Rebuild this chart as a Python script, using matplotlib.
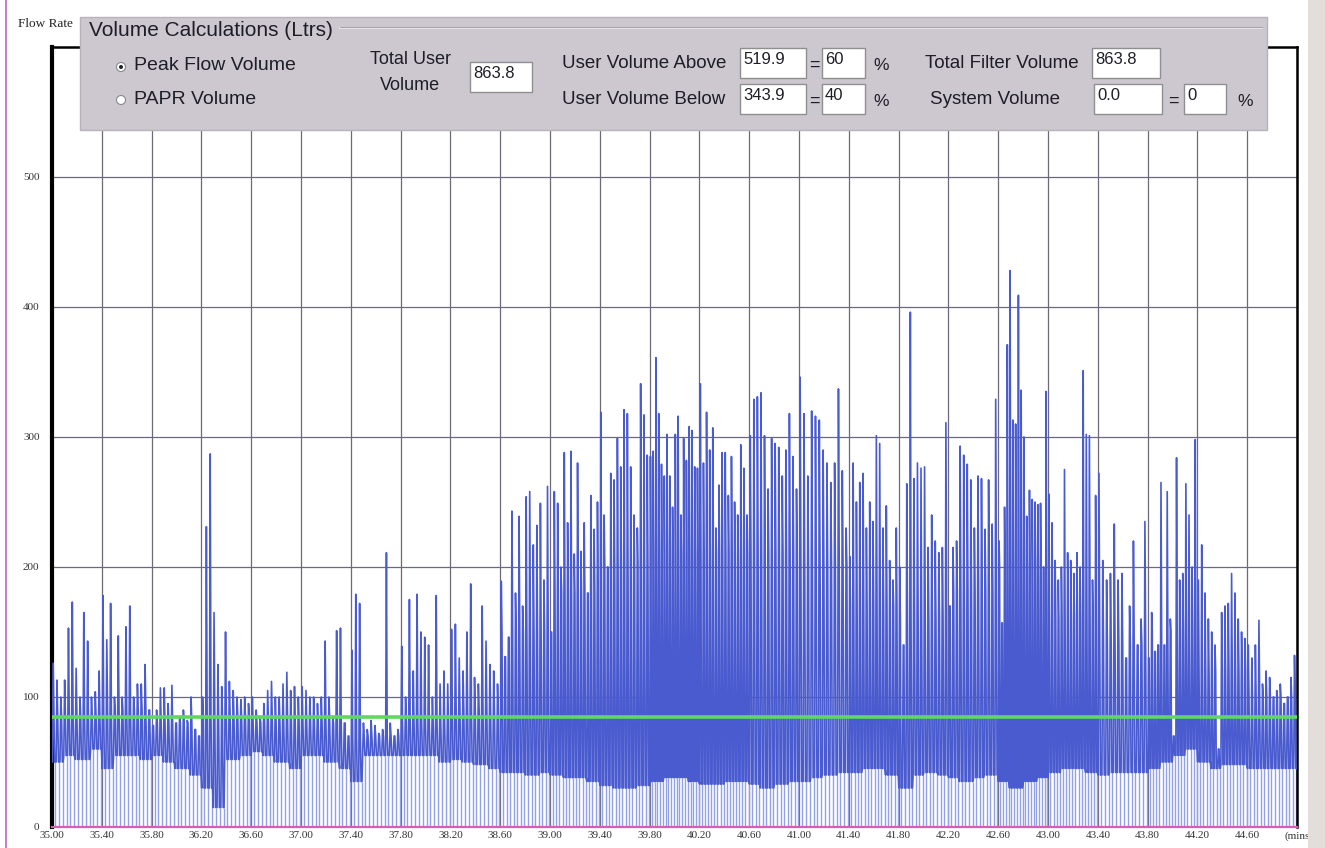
import numpy as np
import matplotlib
matplotlib.use("Agg")
import matplotlib.pyplot as plt
from matplotlib.patches import Rectangle, Circle

# ---------------- data ----------------
# flow-rate spikes, grouped per 0.4 minute window starting at 35.00 min
t_start = 35.0
window = 0.4
spikes = [
    [126, 113, 100, 113, 153, 173, 122, 100, 165, 143, 100, 104, 120],
    [178, 144, 172, 100, 147, 100, 154, 170, 100, 110, 110, 125, 90],
    [78, 90, 107, 107, 95, 109, 80, 85, 90, 82, 100, 75, 70],
    [100, 231, 287, 165, 125, 108, 150, 112, 105, 100, 98, 100, 95],
    [100, 90, 85, 95, 105, 112, 100, 100, 110, 119, 105, 108, 100],
    [108, 105, 100, 100, 95, 100, 143, 100, 85, 151, 153, 80, 70],
    [136, 179, 172, 80, 75, 82, 78, 72, 75, 211, 80, 70, 75],
    [139, 100, 175, 120, 179, 150, 146, 140, 100, 178, 110, 120, 110],
    [152, 156, 130, 120, 150, 187, 115, 110, 170, 143, 125, 120, 110],
    [189, 131, 146, 243, 180, 239, 170, 254, 258, 217, 232, 249, 190, 262],
    [150, 258, 249, 200, 288, 234, 289, 210, 280, 212, 234, 180, 255, 229, 250],
    [319, 240, 200, 272, 267, 299, 277, 321, 318, 277, 240, 230, 341, 317, 286],
    [285, 289, 361, 318, 279, 270, 302, 270, 246, 302, 316, 240, 299, 282, 308, 305, 277, 276],
    [341, 280, 319, 290, 307, 230, 263, 288, 288, 255, 285, 250, 240, 294, 276, 240],
    [301, 329, 331, 334, 301, 260, 299, 295, 292, 270, 290, 318, 285, 260],
    [346, 318, 270, 320, 316, 313, 290, 280, 265, 280, 337, 274, 230],
    [208, 280, 250, 265, 272, 230, 250, 235, 301, 295, 230, 247, 205, 190, 230],
    [200, 140, 264, 396, 268, 280, 276, 277, 215, 240, 220, 211, 215, 311],
    [170, 215, 220, 293, 286, 279, 267, 230, 270, 268, 229, 267, 233, 329],
    [220, 157, 246, 371, 428, 313, 310, 409, 336, 300, 239, 259, 252, 250, 248, 249, 200, 335],
    [256, 234, 205, 190, 200, 275, 211, 205, 195, 211, 200, 351, 302, 301, 190, 255],
    [272, 205, 190, 195, 233, 190, 195, 130, 170, 220, 140, 160, 235],
    [130, 165, 135, 140, 265, 140, 258, 160, 70, 284, 190, 195, 264, 240, 200, 298],
    [190, 217, 180, 160, 150, 140, 60, 165, 170, 172, 195, 180, 160, 150, 145],
    [140, 130, 140, 159, 110, 120, 115, 100, 105, 110, 95, 100, 115, 132],
]
# level the flow falls back to after each spike, per 0.4 min window
plateau = [85, 90, 80, 85, 80, 80, 70, 80, 90, 150, 180, 200, 210,
           210, 210, 200, 170, 160, 180, 200, 160, 140, 150, 120, 100]
# resting flow, per 0.1 min
base_step = 0.1
base_flow = [50, 55, 52, 60, 45, 55, 55, 52, 55, 50,
             45, 40, 30, 15, 52, 55, 58, 55, 50, 45,
             55, 55, 50, 45, 35, 55, 55, 55, 55, 55,
             55, 50, 52, 50, 48, 45, 42, 42, 40, 42,
             40, 38, 38, 35, 32, 30, 30, 32, 35, 38,
             38, 35, 33, 33, 35, 35, 33, 30, 33, 35,
             35, 38, 40, 42, 42, 45, 45, 40, 30, 40,
             42, 40, 38, 35, 38, 40, 35, 30, 35, 38,
             42, 45, 45, 42, 40, 42, 42, 42, 45, 50,
             55, 60, 50, 45, 48, 48, 45, 45, 45, 45]
threshold = 85

x_ticks = [35.00, 35.40, 35.80, 36.20, 36.60, 37.00, 37.40, 37.80, 38.20,
           38.60, 39.00, 39.40, 39.80, 40.20, 40.60, 41.00, 41.40, 41.80,
           42.20, 42.60, 43.00, 43.40, 43.80, 44.20, 44.60, 45.00]
y_ticks = [0, 100, 200, 300, 400, 500]

# ---------------- build trace ----------------
t_pts, y_pts, drop_t, drop_top = [], [], [], []
for i, seg in enumerate(spikes):
    w = window / len(seg)
    for k, pk in enumerate(seg):
        t = t_start + i * window + (k + 0.5) * w
        b = base_flow[min(int((t - t_start) / base_step), len(base_flow) - 1)]
        t_pts += [t - 0.42 * w, t - 0.2 * w, t, t + 0.18 * w, t + 0.42 * w]
        y_pts += [b, pk, min(plateau[i], pk), b, b]
        drop_t.append(t + 0.3 * w)
        drop_top.append(b)

W, H = 1325, 848
fig = plt.figure(figsize=(W / 100, H / 100), dpi=100)
fig.patch.set_facecolor("white")

ax = fig.add_axes([52 / W, 21 / H, 1245 / W, 780 / H])
ax.set_xlim(35, 45)
ax.set_ylim(0, 600)

ax.vlines(drop_t, 0, drop_top, color="#93a1ea", lw=1.0, zorder=2)
ax.plot(t_pts, y_pts, color="#4a5bcf", lw=1.2, zorder=3)
ax.axhline(threshold, color="#62d562", lw=2.6, zorder=4)

ax.set_xticks(x_ticks)
ax.set_xticklabels([f"{v:.2f}" for v in x_ticks[:-1]] + ["(mins"])
ax.set_yticks(y_ticks)
ax.set_yticklabels([str(v) for v in y_ticks])
ax.tick_params(length=0, labelsize=8, colors="#333333")
ax.tick_params(axis="x", pad=3)
ax.tick_params(axis="y", pad=9)
for lab in ax.get_xticklabels() + ax.get_yticklabels():
    lab.set_family("Liberation Serif")
ax.grid(True, color="#6d687a", lw=0.9)
ax.set_axisbelow(True)

ax.spines["left"].set_color("black")
ax.spines["left"].set_linewidth(3)
ax.spines["top"].set_color("black")
ax.spines["top"].set_linewidth(1.8)
ax.spines["right"].set_color("black")
ax.spines["right"].set_linewidth(1.8)
ax.spines["bottom"].set_color("#d65fb4")
ax.spines["bottom"].set_linewidth(1.6)

# ---------------- overlay (pixel coordinates) ----------------
ov = fig.add_axes([0, 0, 1, 1], zorder=10)
ov.set_xlim(0, W)
ov.set_ylim(H, 0)
ov.axis("off")

ov.plot([6, 6], [0, H], color="#b469c4", lw=1.2)
ov.add_patch(Rectangle((1308, 0), 17, H, facecolor="#e3ded9", edgecolor="none"))
ov.text(18, 24, "Flow Rate", family="Liberation Serif", fontsize=9.5,
        va="center", ha="left", color="#222222")

# group box
ov.add_patch(Rectangle((80, 17), 1187, 113, facecolor="#cdc7cf",
                       edgecolor="#b8b2ba", lw=1))
ov.plot([340, 1262], [28, 28], color="#f0ecf0", lw=1.2)
ov.plot([340, 1262], [27, 27], color="#a9a3ab", lw=0.8)

sans = "Liberation Sans"
txt = dict(family=sans, color="#1e1e28", va="center")
ov.text(89, 31, "Volume Calculations (Ltrs)", fontsize=15, ha="left", **txt)

# radio buttons
ov.add_patch(Circle((121, 67), 4.5, facecolor="white", edgecolor="#8a8a8a", lw=0.8))
ov.add_patch(Circle((121, 67), 2.0, facecolor="#222222", edgecolor="none"))
ov.add_patch(Circle((121, 100), 4.5, facecolor="white", edgecolor="#8a8a8a", lw=0.8))
ov.text(134, 66, "Peak Flow Volume", fontsize=14, ha="left", **txt)
ov.text(134, 99, "PAPR Volume", fontsize=14, ha="left", **txt)

ov.text(410, 60, "Total User", fontsize=13, ha="center", **txt)
ov.text(410, 86, "Volume", fontsize=13, ha="center", **txt)


def field(x0, x1, y0, y1, value):
    ov.add_patch(Rectangle((x0, y0), x1 - x0, y1 - y0, facecolor="white",
                           edgecolor="#8f8f8f", lw=1))
    ov.text(x0 + 3, (y0 + y1) / 2 - 3, value, fontsize=12, ha="left", **txt)


field(470, 532, 62, 92, "863.8")

ov.text(562, 63, "User Volume Above", fontsize=13.5, ha="left", **txt)
field(740, 806, 48, 78, "519.9")
ov.text(814, 65, "=", fontsize=13, ha="center", **txt)
field(822, 865, 48, 78, "60")
ov.text(881, 65, "%", fontsize=12.5, ha="center", **txt)

ov.text(562, 100, "User Volume Below", fontsize=13.5, ha="left", **txt)
field(740, 806, 84, 114, "343.9")
ov.text(814, 101, "=", fontsize=13, ha="center", **txt)
field(822, 865, 84, 114, "40")
ov.text(881, 101, "%", fontsize=12.5, ha="center", **txt)

ov.text(925, 63, "Total Filter Volume", fontsize=13.5, ha="left", **txt)
field(1092, 1160, 48, 78, "863.8")

ov.text(930, 100, "System Volume", fontsize=13.5, ha="left", **txt)
field(1094, 1162, 84, 114, "0.0")
ov.text(1173, 101, "=", fontsize=13, ha="center", **txt)
field(1184, 1226, 84, 114, "0")
ov.text(1245, 101, "%", fontsize=12.5, ha="center", **txt)

fig.savefig("out.png", dpi=100)
